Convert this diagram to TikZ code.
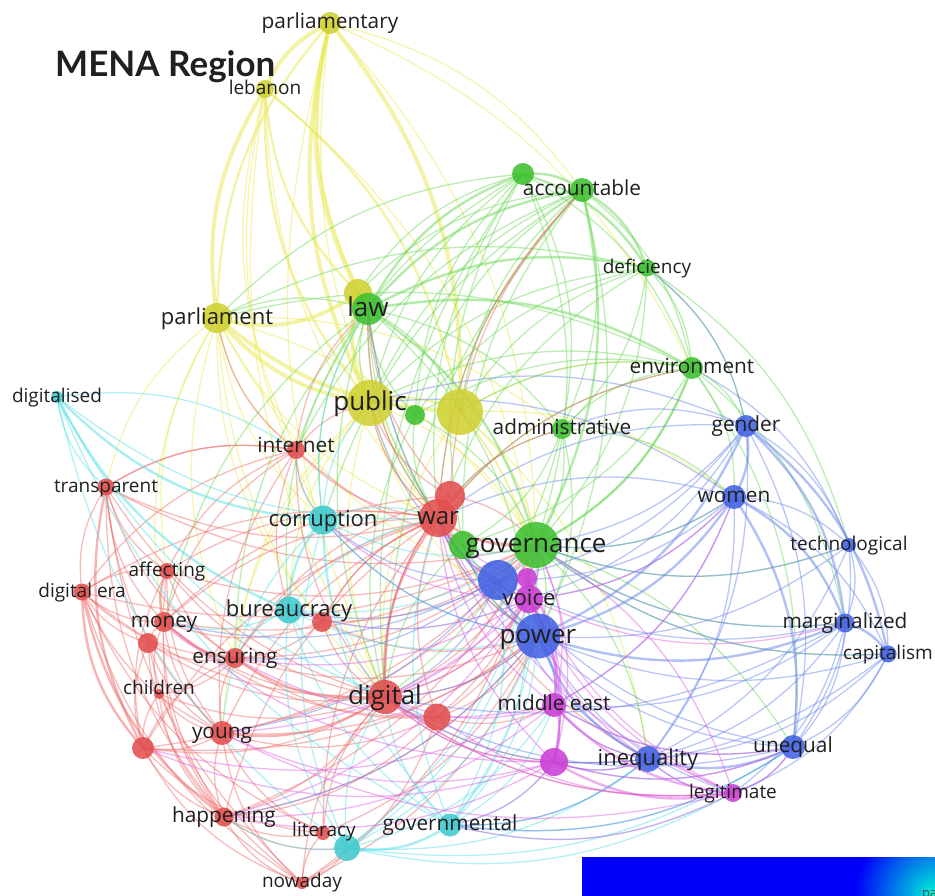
\documentclass[tikz,border=0pt]{standalone}
\usepackage{fontspec}
\setmainfont{Open Sans}
\newfontfamily\titlefont{Lato}
\usetikzlibrary{calc}
\pgfdeclarelayer{edges}
\pgfsetlayers{edges,main}
\definecolor{cY}{RGB}{208,208,52}
\definecolor{cG}{RGB}{62,192,48}
\definecolor{cR}{RGB}{226,78,78}
\definecolor{cC}{RGB}{64,202,206}
\definecolor{cB}{RGB}{66,98,226}
\definecolor{cM}{RGB}{202,62,212}
\definecolor{kY}{RGB}{232,232,80}
\definecolor{kG}{RGB}{105,215,85}
\definecolor{kR}{RGB}{238,105,105}
\definecolor{kC}{RGB}{85,222,228}
\definecolor{kB}{RGB}{100,130,236}
\definecolor{kM}{RGB}{222,90,228}
\definecolor{barblue}{RGB}{0,0,250}
\definecolor{barcyan}{RGB}{0,250,215}
\definecolor{titlecol}{RGB}{35,31,32}
\tikzset{
  nd/.style={circle,inner sep=0pt,draw=none,fill opacity=.88},
  ed/.style={line width=1.3pt,draw opacity=.45},
  edm/.style={line width=2.4pt,draw opacity=.5},
  edk/.style={line width=4pt,draw opacity=.5},
  lbl/.style={anchor=base,inner sep=0pt,text=black!88},
  lA/.style={lbl,font=\fontsize{26}{26}\selectfont,yshift=-7.3pt},
  lB/.style={lbl,font=\fontsize{24}{24}\selectfont,yshift=-6.7pt},
  lC/.style={lbl,font=\fontsize{22}{22}\selectfont,yshift=-6.2pt},
  lD/.style={lbl,font=\fontsize{20.8}{20.8}\selectfont,yshift=-5.8pt},
  lE/.style={lbl,font=\fontsize{19}{19}\selectfont,yshift=-5.3pt},
}
% edge that bulges away from the map centre (480,520)
\newcommand\Eout[3]{\draw[#1] let \p1=(#2.center),\p2=(#3.center),
  \n1={ifthenelse(((\x2-\x1)/100)*((-520-\y1)/100)-((\y2-\y1)/100)*((480-\x1)/100)>0,-20,20)}
  in (#2.center) to[bend left=\n1] (#3.center);}
\begin{document}
\begin{tikzpicture}[x=1pt,y=-1pt]
\useasboundingbox (0,0) rectangle (935,896);
% ---------------- nodes ----------------
\node[nd,fill=cY,minimum size=22] (pmy) at (330,23) {};
\node[nd,fill=cY,minimum size=18] (leb) at (265,89) {};
\node[nd,fill=cY,minimum size=30] (parl) at (217,318) {};
\node[nd,fill=cY,minimum size=28] (lawy) at (358,293) {};
\node[nd,fill=cY,minimum size=46] (pub) at (370,403) {};
\node[nd,fill=cY,minimum size=46] (yb) at (460,412) {};
\node[nd,fill=cG,minimum size=22] (acz) at (523,174) {};
\node[nd,fill=cG,minimum size=24] (acc) at (582,190) {};
\node[nd,fill=cG,minimum size=17] (defi) at (647,268) {};
\node[nd,fill=cG,minimum size=22] (env) at (692,368) {};
\node[nd,fill=cG,minimum size=20] (adm) at (562,429) {};
\node[nd,fill=cG,minimum size=32] (law) at (368,309) {};
\node[nd,fill=cG,minimum size=20] (gsm) at (415,415) {};
\node[nd,fill=cR,minimum size=18] (inet) at (296,450) {};
\node[nd,fill=cR,minimum size=17] (trans) at (106,487) {};
\node[nd,fill=cR,minimum size=16] (aff) at (167,571) {};
\node[nd,fill=cR,minimum size=17] (dera) at (82,592) {};
\node[nd,fill=cR,minimum size=20] (mon) at (164,622) {};
\node[nd,fill=cR,minimum size=20] (monb) at (148,643) {};
\node[nd,fill=cR,minimum size=20] (ens) at (235,658) {};
\node[nd,fill=cR,minimum size=20] (burr) at (322,622) {};
\node[nd,fill=cR,minimum size=10] (chil) at (159,694) {};
\node[nd,fill=cR,minimum size=24] (yng) at (222,733) {};
\node[nd,fill=cR,minimum size=22] (rl) at (143,748) {};
\node[nd,fill=cR,minimum size=19] (hap) at (224,817) {};
\node[nd,fill=cR,minimum size=14] (litr) at (323,833) {};
\node[nd,fill=cR,minimum size=12] (now) at (302,883) {};
\node[nd,fill=cR,minimum size=34] (dig) at (385,697) {};
\node[nd,fill=cR,minimum size=27] (digb) at (437,717) {};
\node[nd,fill=cR,minimum size=30] (warb) at (450,496) {};
\node[nd,fill=cR,minimum size=38] (war) at (438,518) {};
\node[nd,fill=cC,minimum size=12] (dlsd) at (57,397) {};
\node[nd,fill=cC,minimum size=29] (corr) at (323,520) {};
\node[nd,fill=cC,minimum size=27] (bur) at (289,610) {};
\node[nd,fill=cC,minimum size=26] (lit) at (347,848) {};
\node[nd,fill=cC,minimum size=23] (govt) at (450,825) {};
\node[nd,fill=cG,minimum size=28] (gvl) at (463,545) {};
\node[nd,fill=cG,minimum size=46] (gov) at (536,545) {};
\node[nd,fill=cB,minimum size=40] (bb) at (498,580) {};
\node[nd,fill=cB,minimum size=22] (gen) at (746,426) {};
\node[nd,fill=cB,minimum size=24] (wom) at (734,497) {};
\node[nd,fill=cB,minimum size=14] (tech) at (849,545) {};
\node[nd,fill=cB,minimum size=19] (marg) at (845,623) {};
\node[nd,fill=cB,minimum size=17] (cap) at (888,654) {};
\node[nd,fill=cB,minimum size=24] (uneq) at (793,747) {};
\node[nd,fill=cB,minimum size=26] (ineq) at (648,759) {};
\node[nd,fill=cM,minimum size=20] (mga) at (527,578) {};
\node[nd,fill=cM,minimum size=28] (voice) at (529,599) {};
\node[nd,fill=cB,minimum size=45] (pow) at (538,636) {};
\node[nd,fill=cM,minimum size=24] (mide) at (554,705) {};
\node[nd,fill=cM,minimum size=28] (mglo) at (554,762) {};
\node[nd,fill=cM,minimum size=18] (legi) at (733,793) {};

% ---------------- edges ----------------
\begin{pgfonlayer}{edges}
% yellow
\foreach \a/\b in {pmy/leb,pmy/lawy,pmy/yb,pmy/pub,leb/parl,lawy/pub}
  \Eout{edk,kY}{\a}{\b};
\draw[edk,kY] (pub.center) to[bend left=20] (parl.center);
\draw[edk,kY] (yb.center) to[bend left=18] (parl.center);
\draw[edk,kY] (lawy.center) to[bend left=25] (parl.center);
\foreach \a/\b in {pmy/parl,leb/lawy,leb/pub,leb/yb,pub/yb,pmy/law}
  \Eout{edm,kY}{\a}{\b};
\foreach \a/\b in {leb/gov,pmy/gov,parl/war,parl/dig,parl/corr,parl/gov,parl/adm,pub/gov,yb/gov,pub/war,yb/pow,pub/dig,parl/inet,parl/aff,leb/war,pmy/acc,pub/bur,yb/ineq,parl/trans,parl/mon,pub/yng,yb/env,pmy/env,leb/corr,yb/voice,pub/pow,parl/ens,leb/inet,pmy/war,parl/burr,pub/ens,yb/dig,parl/voice,leb/dig,pmy/dig,yb/wom}
  \Eout{ed,kY}{\a}{\b};
% green
\foreach \a/\b in {law/acc,law/acz,law/env,acz/acc,law/gov,acc/gov,gov/env,law/defi,acz/defi,acc/defi}
  \Eout{edm,kG}{\a}{\b};
\foreach \a/\b in {law/adm,law/gsm,law/gvl,acz/env,acz/adm,acz/gov,acz/gsm,acc/env,acc/adm,acc/gvl,acc/gsm,defi/env,defi/gov,defi/gsm,defi/adm,env/adm,env/gsm,env/gvl,env/gen,env/wom,adm/gov,adm/gvl,gov/gvl,gsm/gov,gov/pow,gov/voice,gov/ineq,gov/uneq,gov/wom,gov/tech,law/war,law/dig,law/corr,law/pub,law/parl,acz/pub,acz/parl,acc/pub,acc/yb,defi/pub,env/pub,env/yb,acz/lawy,acc/lawy,defi/parl,env/parl,law/pow,adm/wom,gov/marg,gov/cap,gsm/war,acz/war,acc/dig,defi/yb,env/gov,law/yb,gsm/pub,acz/inet,acc/corr,env/marg,defi/tech,gvl/dig,gvl/pow,law/bur,law/ens,acc/war,acz/dig,defi/war,env/war,adm/war,adm/dig,gsm/dig,law/mon,acc/inet,env/uneq,defi/gen,adm/pow,gvl/voice,law/voice,acz/gvl,acc/pow}
  \Eout{ed,kG}{\a}{\b};
% red
\foreach \a/\b in {dig/war,dig/yng,mon/ens,aff/mon,dera/rl,ens/dig,war/gov,trans/rl,dera/hap}
  \Eout{edm,kR}{\a}{\b};
\foreach \a/\b in {inet/war,inet/dig,inet/trans,inet/corr,inet/bur,trans/aff,trans/dera,trans/mon,trans/war,trans/dig,trans/ens,aff/dera,aff/ens,aff/dig,aff/yng,aff/war,dera/mon,dera/monb,dera/yng,dera/ens,dera/dig,dera/war,mon/monb,mon/dig,mon/war,mon/yng,mon/burr,monb/rl,monb/yng,monb/dig,monb/ens,ens/yng,ens/war,ens/burr,chil/rl,chil/yng,chil/dig,chil/mon,yng/rl,yng/hap,yng/war,yng/now,yng/litr,rl/hap,rl/dig,rl/now,rl/war,hap/now,hap/dig,hap/litr,hap/war,hap/lit,litr/dig,litr/now,litr/war,now/dig,now/lit,dig/digb,dig/warb,dig/burr,dig/pow,dig/gov,war/warb,war/pow,war/pub,war/law,war/gvl,war/burr,warb/gov,warb/pub,digb/pow,digb/gov,digb/voice,digb/mide,digb/war,burr/gov,hap/pow,now/pow,rl/pow,dera/gov,trans/gov,war/ineq,dig/mglo,dig/legi,inet/law,inet/pub,inet/parl,war/env,war/acc,warb/law,mon/gov,yng/gov,ens/pow,aff/gov,burr/war,inet/yng,trans/hap,rl/ens,hap/digb,yng/digb,now/digb,mon/digb,ens/digb,dera/now,trans/now,trans/yng,dera/litr,aff/hap,aff/rl,mon/hap,monb/hap,monb/now,chil/hap,chil/ens,rl/litr,trans/inet,dera/inet,aff/inet,mon/inet,warb/dig,warb/ens,warb/mon,dig/voice,war/voice,dig/ineq,rl/gov,hap/gov,now/gov,litr/pow,yng/pow,ens/gov,burr/pow,inet/gov,war/adm,warb/acc}
  \Eout{ed,kR}{\a}{\b};
% cyan
\foreach \a/\b in {dlsd/corr,dlsd/bur,lit/govt,corr/bur}
  \Eout{edm,kC}{\a}{\b};
\foreach \a/\b in {dlsd/lit,dlsd/govt,corr/govt,corr/lit,bur/lit,bur/govt,corr/war,corr/gov,corr/pow,bur/dig,bur/pow,lit/dig,govt/ineq,govt/uneq,govt/pow,govt/dig,govt/voice,lit/ineq,corr/pub,bur/ens,lit/hap,govt/legi,lit/mide,govt/gov,dlsd/trans,dlsd/war,corr/law,bur/gov,lit/pow,govt/mglo,lit/voice,bur/voice,dlsd/dig,corr/dig,bur/war,lit/gov,govt/war,govt/mide,lit/uneq,corr/inet,dlsd/inet,lit/legi,govt/bb,bur/mon,corr/yng}
  \Eout{ed,kC}{\a}{\b};
% blue
\foreach \a/\b in {pow/wom,pow/gen,gen/wom,wom/marg,pow/ineq,ineq/uneq,pow/marg,marg/cap,gen/marg,wom/uneq,gen/cap}
  \Eout{edm,kB}{\a}{\b};
\foreach \a/\b in {gen/tech,gen/uneq,gen/bb,wom/tech,wom/cap,wom/bb,wom/ineq,tech/marg,tech/cap,tech/uneq,tech/pow,marg/uneq,marg/ineq,marg/bb,cap/uneq,cap/ineq,cap/pow,uneq/pow,uneq/bb,ineq/bb,bb/pow,bb/gov,pow/voice,pow/mide,pow/legi,pow/mglo,bb/dig,bb/war,gen/gov,gen/adm,wom/gov,uneq/legi,ineq/legi,ineq/mglo,pow/gvl,bb/corr,bb/pub,pow/law,ineq/mide,uneq/mide,marg/gov,cap/gov,tech/env,gen/defi,bb/yng,pow/dig,ineq/govt,uneq/govt,gen/pub,wom/war,marg/mide,cap/legi,tech/gov,gen/ineq,wom/mide,marg/legi,cap/mglo,tech/ineq,uneq/mglo,bb/ens,bb/bur,pow/corr,pow/war,gen/war,wom/pub,marg/dig,uneq/dig,ineq/dig,bb/mon,pow/hap,gen/voice,wom/voice}
  \Eout{ed,kB}{\a}{\b};
% magenta
\foreach \a/\b in {voice/mglo,mglo/legi,voice/mide,mide/legi}
  \Eout{edm,kM}{\a}{\b};
\foreach \a/\b in {voice/legi,mga/mide,mga/mglo,mga/legi,mide/mglo,voice/ineq,mglo/ineq,mide/ineq,legi/uneq,voice/dig,voice/war,mide/dig,mglo/dig,mglo/govt,legi/govt,voice/gov,mide/gov,mglo/rl,mglo/yng,voice/yng,mide/hap,legi/digb,voice/wom,mide/uneq,mglo/war,legi/war,voice/corr,mga/gov,mga/dig,voice/ens,mide/ens,legi/gov,mglo/mon,voice/bur,mglo/hap,mide/rl,legi/dig,voice/marg,mide/wom,mglo/uneq,legi/ineq,mga/war,mide/war,mglo/gov,voice/hap,legi/yng}
  \Eout{ed,kM}{\a}{\b};
\end{pgfonlayer}

% ---------------- labels ----------------
\node[lD] (t-pmy) at (pmy) {parliamentary};
\node[lE] (t-leb) at (265,89) {lebanon};
\node[lC] (t-parl) at (parl) {parliament};
\node[lA] (t-law) at (law) {law};
\node[lA] (t-pub) at (pub) {public};
\node[lE] (t-dlsd) at (dlsd) {digitalised};
\node[lD] (t-inet) at (296,447) {internet};
\node[lD] (t-adm) at (adm) {administrative};
\node[lD] (t-acc) at (acc) {accountable};
\node[lE] (t-defi) at (defi) {deficiency};
\node[lD] (t-env) at (env) {environment};
\node[lD] (t-gen) at (gen) {gender};
\node[lD] (t-wom) at (wom) {women};
\node[lE] (t-tech) at (tech) {technological};
\node[lD] (t-marg) at (marg) {marginalized};
\node[lE] (t-cap) at (cap) {capitalism};
\node[lD] (t-uneq) at (uneq) {unequal};
\node[lC] (t-ineq) at (ineq) {inequality};
\node[lE] (t-legi) at (legi) {legitimate};
\node[lD] (t-mide) at (mide) {middle east};
\node[lA] (t-pow) at (pow) {power};
\node[lC] (t-voice) at (voice) {voice};
\node[lA] (t-gov) at (gov) {governance};
\node[lB] (t-war) at (war) {war};
\node[lC] (t-corr) at (corr) {corruption};
\node[lC] (t-bur) at (bur) {bureaucracy};
\node[lE] (t-trans) at (trans) {transparent};
\node[lE] (t-aff) at (aff) {affecting};
\node[lE] (t-dera) at (dera) {digital era};
\node[lD] (t-mon) at (mon) {money};
\node[lD] (t-ens) at (ens) {ensuring};
\node[lE] (t-chil) at (159,689) {children};
\node[lA] (t-dig) at (dig) {digital};
\node[lD] (t-yng) at (yng) {young};
\node[lD] (t-hap) at (hap) {happening};
\node[lE] (t-litr) at (324,831) {literacy};
\node[lD] (t-govt) at (govt) {governmental};
\node[lE] (t-now) at (302,882) {nowaday};

% title
\node[anchor=base west,inner sep=0pt,text=titlecol,font=\titlefont\bfseries\fontsize{35}{35}\selectfont] (title) at (55,77) {MENA Region};

% bottom-right bar
\fill[barblue] (582,857) rectangle (935,896);
\begin{scope}
  \clip (582,857) rectangle (935,896);
  \shade[inner color=barcyan,outer color=barblue] (935,896) circle (80);
  \node[anchor=base west,inner sep=0pt,text=black!70,font=\fontsize{13}{13}\selectfont] (pa) at (922,897) {pa};
\end{scope}
\end{tikzpicture}
\end{document}
